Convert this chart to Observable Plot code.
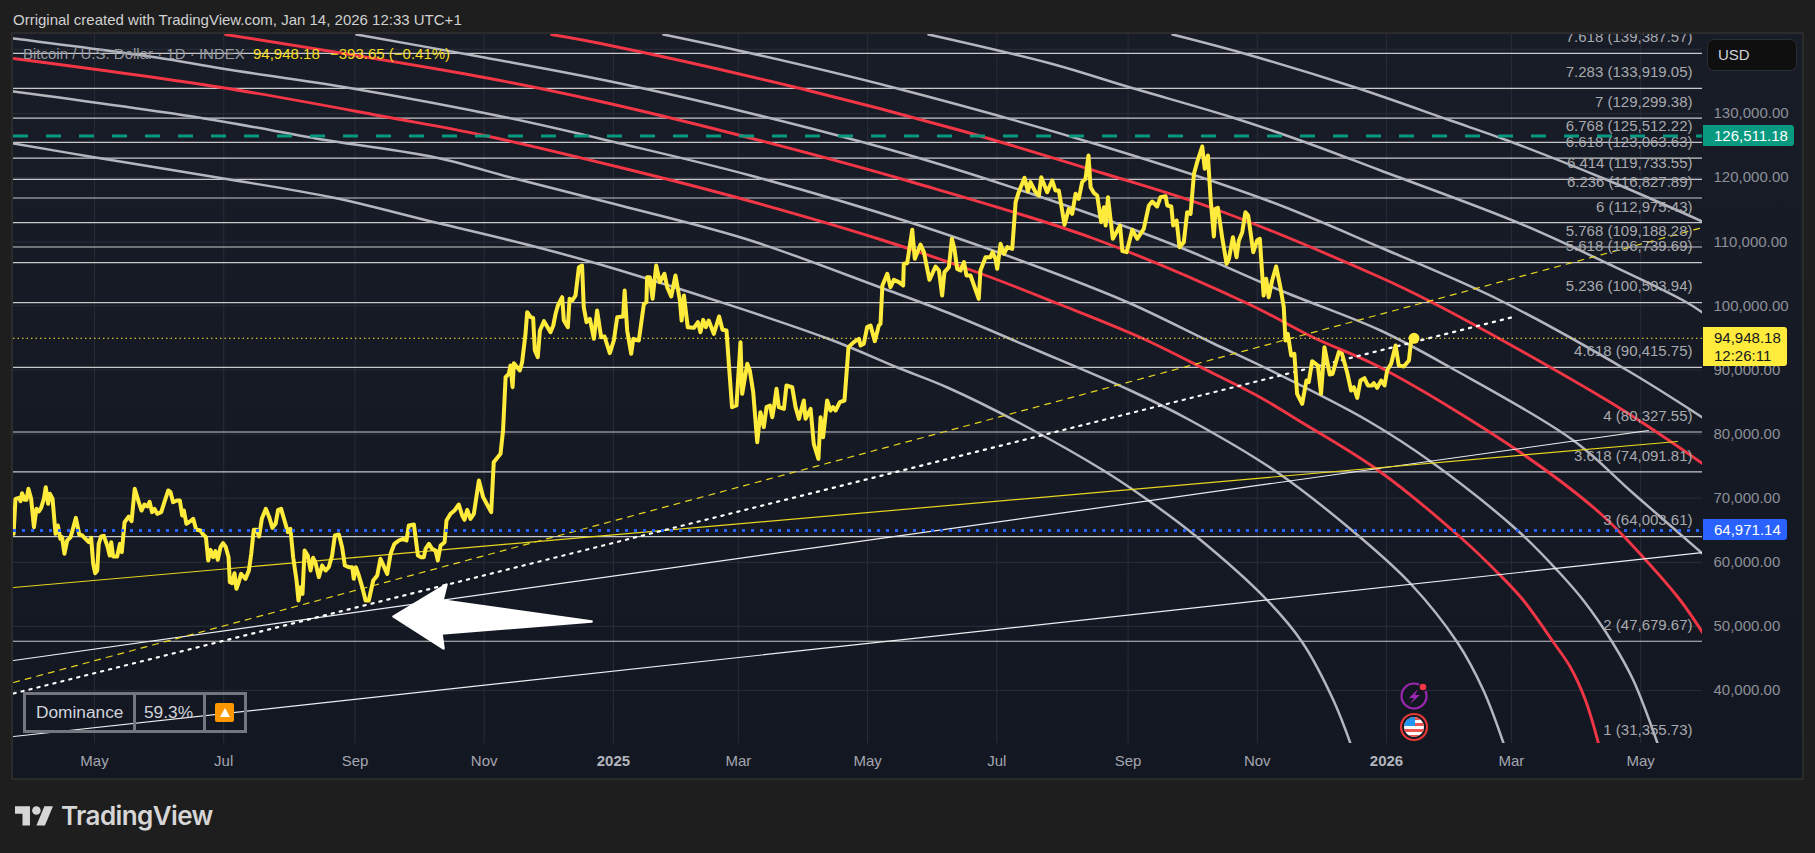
<!DOCTYPE html>
<html><head><meta charset="utf-8">
<script src="https://cdn.jsdelivr.net/npm/d3@7"></script>
<script src="https://cdn.jsdelivr.net/npm/@observablehq/plot@0.6"></script>
<style>
html,body{margin:0;padding:0;background:#1e1e1e;overflow:hidden}
body{width:1815px;height:853px;position:relative;font-family:"Liberation Sans",Arial,sans-serif}
#panel{position:absolute;left:11px;top:32px;width:1789px;height:744px;border:2px solid #2b2b2b;background:linear-gradient(#181c27,#131722)}
#chart{position:absolute;left:0;top:0}
.abs{position:absolute;white-space:nowrap}
.tag{position:absolute;left:1703px;font-size:15px;line-height:21px;text-align:left;padding-left:11px;box-sizing:border-box;border-radius:0 3px 3px 0}
#dom{position:absolute;left:23px;top:692px;width:224px;height:41px;box-sizing:border-box;border:3px solid #74767f}
#dom div{position:absolute;top:0;height:35px;line-height:35px;font-size:17.3px;color:#d1d4dc}
</style></head><body>
<div id="panel"></div>
<div id="chart"></div>
<script>
// ---- time axis
const startDay = Date.UTC(2024, 4, 1);
const at = d => new Date(startDay + d * 864e5);
const axisDate = ["2024-05-01","2024-07-01","2024-09-01","2024-11-01","2025-03-01","2025-05-01","2025-07-01","2025-09-01","2025-11-01","2026-03-01","2026-05-01"];
const axisYears = ["2025-01-01","2026-01-01"];
const priceTicks = [40000,50000,60000,70000,80000,90000,100000,110000,120000,130000,140000];

// ---- BTC close: days since 2024-05-01 and price
const closeDays = [-38.2,-37.3,-35.7,-34.9,-34.2,-33,-32.1,-31.2,-29.9,-28.6,-27.4,-26.3,-25.2,-23.9,-23,-21.9,-21.1,-19.8,-18.4,-17.3,-16.1,-15.3,-14.2,-12.9,-11.3,-10.4,-8.8,-7.2,-5.8,-4.2,-2.7,-1.6,-0.6,0.3,1.3,2,3.1,4.4,6,7.2,7.9,8.8,10.7,12,12.9,14.2,15.4,16.2,17.5,19,20.9,22.2,23.6,24.9,26,27.2,28.3,29.6,31.5,33,34.8,35.9,37.1,39,40.3,41.4,42.2,43.4,45.3,46.6,48,50,51.3,52.6,53.7,54.8,56,57.1,58.2,59.5,60.7,62,63.3,63.9,65,66.1,67,68.1,69.2,71.3,72.9,74,75.2,76.5,77.7,79,80.9,82.5,84,85.5,86.7,88.1,89.7,91.3,92.5,93.8,95.4,96.3,97.3,98.2,99.2,100.7,102,103.2,104.3,105.9,107.5,109.1,110.6,112.2,113.5,115.4,116.9,118.2,120.1,121.7,122.4,123.4,124.8,126.4,128,129.5,131.6,133.5,135,138.2,139.8,141.6,143.7,145.7,147.3,148.4,150.8,152.7,154.2,155.5,156.3,157.9,159.4,161,162.1,163.4,165.3,166.2,168.1,170,172,173.6,174.7,176,177.5,179.1,181.5,183.5,187.3,
188.5,191.7,192.9,194.1,195.6,196.4,197.4,198,200.8,201.9,203.5,204.3,205.9,207.1,207.9,209.3,210.3,212.2,213.7,215.3,216.6,217.7,218.8,220.8,221.6,223.5,224.3,225.6,227.1,228.7,230.2,231,232.3,233.9,235.8,237.3,239.2,240.8,243.3,245.2,246.8,249.6,250.3,251.5,253.4,254.4,257,259.4,260.6,260.9,262.2,263.5,265.2,266.9,269.1,270.4,272.3,274.3,276.4,277.2,278.3,280.1,283,284.9,286.1,287.4,288.6,290,292.4,294.9,296.5,298.4,299.5,301,303.1,305,305.8,308.2,309.4,311,312.9,314.4,316,317.3,318.9,320,320.8,322,323.1,325.5,326.7,329.4,331,332.6,334.9,335.7,338.1,339.6,341.8,342.8,344,345.9,347.5,348.7,349.9,351.9,354.1,356,358.5,360.9,361.7,363.2,364.8,366.4,368.4,370.3,371.1,372,374.3,375.8,377.4,379.8,381.8,382.1,383.7,
386.1,387.3,390,391.6,394.2,397.1,398.7,400.2,401.3,403.4,404.8,406,407.3,408.9,410.5,411.7,413.6,417.5,418.3,420.7,423,424,425.4,426.2,427.8,429.4,431,433.3,434.9,436.1,439.1,440.7,441.9,444.3,445.9,447,449.8,452.2,453.7,455.3,458,460,461.6,463.2,464.7,466.3,467.9,469.3,470.3,471.8,473.4,475.3,476.6,477.4,478.5,480.8,484.2,485.3,487.3,490,492.3,495.4,497.8,499.4,501.7,503.3,505.7,506.5,508.4,509.3,510.9,512.3,514.3,515.9,517.5,519.1,520.6,523,524.2,525.7,526.9,528.5,529.3,530.4,532.4,534.5,535.6,537.5,539.2,540.3,541.9,543.4,544.7,547.1,548.9,550.2,552,553.2,554.4,556,557.9,559.9,561.5,562.3,563.4,565,566.5,567.8,570.2,572.2,573.3,574.9,577.6,579.1,580.7,583.2,584.5,587.5,589,
591.4,593.3,594.6,596.2,597.7,599.6,601.2,603.2,604,605.6,607.5,609.1,610.3,612.2,614.3,615.8,618.2,620.6,621.7,623];
const closePrices = [64440,69900,70056,69536,70784,69744,69744,71460,69900,65480,68340,67924,68496,69900,71720,69120,70680,69900,64440,65740,63660,63920,61320,63400,63920,64960,66936,64336,64180,63660,63140,63816,59760,58304,58720,62880,64024,64128,62620,61060,63140,60904,60904,62880,61580,66260,66780,67144,66416,71460,69380,68080,69016,68704,69432,67820,68340,67560,67820,69380,71200,70940,69380,69640,69640,67300,68080,66000,66416,66780,65116,64960,64336,63920,60280,61944,60800,61736,60384,62360,62984,62360,60800,56900,56744,58304,55860,56900,58200,57420,58720,61320,65064,65064,64024,66780,68340,67040,65376,66000,68184,68340,66520,64700,65220,60800,57160,54040,56120,55080,61840,61060,58720,60696,60020,57680,59500,58720,59240,61060,64180,64336,62360,59500,59240,59240,57420,59240,57940,56120,54040,54040,57160,57940,60540,58200,61320,62880,63400,63660,63400,65740,65896,61060,60800,60800,62100,62880,62100,61840,60280,62620,63140,66520,67560,68080,69016,67300,66624,68184,66780,67560,72760,70160,67820,
75620,76920,80560,88880,89400,90700,87320,91064,89920,91220,95640,99020,98240,98136,93040,92000,96160,97616,96784,95900,96940,98760,100060,101360,97720,96680,101100,100840,101620,106040,106300,99800,97460,97980,94860,99280,95120,95224,92624,94600,98240,98344,102400,96160,92520,94860,94600,100320,100580,104480,104480,101100,106300,103700,105000,102920,101464,104740,100840,97720,101620,96680,96576,97460,95900,97824,96680,97720,95640,98344,96264,96160,90960,84200,84460,94340,86280,90960,89920,86540,78740,83420,81080,84200,84460,82640,84200,87060,84200,83940,87580,87320,84200,82380,85240,82380,83940,78480,76140,82640,79520,85240,83680,84200,83680,84980,85240,93560,94340,94860,93820,94080,96680,96940,94500,96940,97200,103180,105000,102920,104064,103700,103180,106560,106664,
111864,107340,109576,108380,104064,106144,105520,101620,105260,106040,110460,108900,105780,105520,106820,104740,104740,101100,105520,107600,107600,108380,107340,105780,109680,108120,109160,108900,116180,117480,119976,117896,119300,117740,117220,120080,117740,119560,118000,118000,112644,115140,114360,117480,116700,119300,119820,123460,118520,117636,117220,113060,115400,112540,116960,110460,112540,108536,108380,111864,110460,112020,115660,116284,115504,116960,117116,115660,115504,112540,113320,109160,109940,114620,114360,120600,122420,124864,121380,123460,116960,110824,115140,115296,110720,106560,107340,110720,107600,110200,111500,114620,114100,108380,110200,110460,101620,104220,101360,103960,106144,102920,99800,94600,95640,92260,92520,86280,84720,88360,88100,91376,90700,86280,93560,89296,89400,92780,92520,
89660,86800,87320,85656,88360,88724,87580,87580,87944,87216,88360,87580,89920,90960,93820,90700,90544,91480,94860,94948];

// ---- horizontal levels
const fibNames = ["7.618","7.283","7","6.768","6.618","6.414","6.236","6","5.768","5.618","5.236","4.618","4","3.618","3","2","1"];
const fibPrices = [139387.57,133919.05,129299.38,125512.22,123063.63,119733.55,116827.89,112975.43,109188.28,106739.69,100503.94,90415.75,80327.55,74091.81,64003.61,47679.67,31355.73];

// ---- arcs: days, prices
const g0Days=[509,541.1,595.4,640.2,667.1,712.5,759.2];
const g0Prices=[142336,139528,134068,128920,125800,119872,113164];
const g1Days=[393.8,451.4,489.1,537.3,569.4,607.2,671.9,714.4,750.2,759.2];
const g1Prices=[142336,137812,134068,129388,125800,121120,113008,106612,100840,98968];
const g2Days=[268.6,308.3,377.2,475,553.8,607.2,663.8,723.8,759.2];
const g2Prices=[142336,139528,134068,125020,116440,109108,100840,89920,82588];
const r3Days=[215.8,238.9,333.3,408.9,475,528.3,607.2,629.8,673.3,721.9,759.2];
const r3Prices=[142336,140932,133912,127360,120808,115192,104428,100840,93040,83680,75412];
const gaDays=[123.7,184.1,248.3,317.8,390,465.5,512.7,560,607.2,640.2,698.3,726.6,759.2];
const gaPrices=[142336,138748,134692,129388,122992,114880,109108,102400,96160,90388,79000,70732,61372];
const rbDays=[61.9,184.1,238.9,305,386.7,471.7,544.4,575.5,607.2,671.9,711,731.3,748.8,759.2];
const rbPrices=[142336,135628,131884,126580,119248,110512,100372,95068,90388,77440,67612,60748,54040,49048];
const gcDays=[-38.2,29.3,60,121.8,194.5,248.3,309.7,386.7,450,489.1,528.3,550.5,601,632.2,671.9,690.7,703,716.7,726.6,738];
const gcPrices=[141712,138748,137032,133912,129388,125332,120340,112852,105520,100372,94132,90700,82120,75412,64960,58720,54040,47488,41560,31732];
const rdDays=[-38.2,60,139.3,184.1,248.3,305,371.1,418.3,454.7,493.9,528.3,550.5,568.5,606.2,645,663.8,674.7,688.9,696.9,704,710.1];
const rdPrices=[138592,134068,129388,126580,121588,116752,110356,105052,100372,95068,89452,85708,82120,74320,63868,57940,54040,47488,43588,38440,31732];
const geDays=[-38.2,49.1,110.5,161,198.3,248.3,308.3,371.1,402.7,441.9,489.1,517.5,558.5,597.7,621.3,643.5,655.8,665.3];
const gePrices=[133444,129388,125800,123148,119872,115660,110356,102868,98968,93508,86800,82120,74008,63868,56692,47488,40000,31732];
const gfDays=[-38.2,0.5,60.9,112.4,161,207.7,248.3,346.1,379.1,402.7,437.2,476.4,497.6,520.8,552.9,570.3,585,593];
const gfPrices=[125332,123148,119872,116908,113008,109264,105520,94912,90388,87268,81652,74320,69640,63868,54352,47488,38440,31732];

// ---- trend lines
const whiteADays=[-38.2,733.7], whiteAPrices=[44680,80560];
const whiteBDays=[-38.2,759.2], whiteBPrices=[32824,61528];
const yellowDays=[-38.2,747.4], yellowPrices=[56068,78844];
const yelDashDays=[-38.2,759.2], yelDashPrices=[41248,112228];
const whiteDotDays=[-38.2,669], whiteDotPrices=[39532,98188];
const arrowDays=[141.2,166.2,164.3,234.7,163.8,164.8,141.2];
const arrowPrices=[51544,56536,54040,50764,48892,46552,51544];

const lastPrice=94948.18, athPrice=126511.18, bluePrice=64971.14;
const rows=(ds,ps)=>ds.map((d,i)=>({t:at(d),p:ps[i]}));
const gray="#b4b6bf", red="#f23645";
const arc=(ds,ps,c,w)=>Plot.line(rows(ds,ps),{x:"t",y:"p",stroke:c,strokeWidth:w,curve:"catmull-rom",clip:true});
const seg=(ds,ps,o)=>Plot.line(rows(ds,ps),{x:"t",y:"p",clip:true,...o});
const domainX=[at(-38.24),at(759.2)];
const fibRows=fibNames.map((n,i)=>({n,p:fibPrices[i]}));
const gridC="#262a35";

const chart=Plot.plot({
  width:1815,height:853,marginTop:34,marginBottom:110,marginLeft:13,marginRight:113,
  style:{background:"transparent",fontFamily:'"Liberation Sans",Arial,sans-serif'},
  x:{type:"utc",domain:domainX,label:null},
  y:{type:"linear",domain:[31732,142336],label:null},
  marks:[
    Plot.ruleX([...axisDate,...axisYears].map(s=>new Date(s)),{stroke:gridC,strokeWidth:1.2}),
    Plot.ruleY(priceTicks,{stroke:gridC,strokeWidth:1.2,clip:true}),
    Plot.ruleY(fibPrices,{stroke:"#c9c9cc",strokeWidth:1.2,clip:true}),
    arc(g0Days,g0Prices,gray,2.5),arc(g1Days,g1Prices,gray,2.5),arc(g2Days,g2Prices,gray,2.5),
    arc(r3Days,r3Prices,red,2.9),arc(gaDays,gaPrices,gray,2.5),arc(rbDays,rbPrices,red,2.9),
    arc(gcDays,gcPrices,gray,2.5),arc(rdDays,rdPrices,red,2.9),arc(geDays,gePrices,gray,2.5),arc(gfDays,gfPrices,gray,2.5),
    seg(whiteADays,whiteAPrices,{stroke:"#eceef1",strokeWidth:1.2}),
    seg(whiteBDays,whiteBPrices,{stroke:"#eceef1",strokeWidth:1.2}),
    seg(yellowDays,yellowPrices,{stroke:"#e8d51f",strokeWidth:1.2}),
    seg(yelDashDays,yelDashPrices,{stroke:"#e8d51f",strokeWidth:1.2,strokeDasharray:"6,6"}),
    seg(whiteDotDays,whiteDotPrices,{stroke:"#ffffff",strokeWidth:2.2,strokeDasharray:"2.2,6"}),
    Plot.ruleY([lastPrice],{stroke:"#ffeb3b",strokeWidth:1,strokeDasharray:"1.5,3"}),
    Plot.axisY({anchor:"right",ticks:priceTicks,tickSize:0,tickPadding:11,tickFormat:d3.format(",.2f"),fontSize:15,fill:"#8e9099",label:null}),
    Plot.axisX({anchor:"bottom",ticks:axisDate.map(s=>new Date(s)),tickSize:0,tickPadding:12,tickFormat:d3.utcFormat("%b"),fontSize:15,fill:"#a3a6af",label:null}),
    Plot.axisX({anchor:"bottom",ticks:axisYears.map(s=>new Date(s)),tickSize:0,tickPadding:12,tickFormat:d3.utcFormat("%Y"),fontSize:15,fontWeight:"bold",fill:"#b2b5be",label:null}),
    Plot.text(fibRows,{x:()=>at(754.5),y:"p",text:d=>`${d.n} (${d3.format(",.2f")(d.p)})`,textAnchor:"end",dy:-16,fontSize:15,fill:"#a8a9ae",clip:true}),
    seg(closeDays,closePrices,{stroke:"#ffeb3b",strokeWidth:4,strokeLinejoin:"round",strokeLinecap:"round"}),
    Plot.dot(rows([623],[lastPrice]),{x:"t",y:"p",r:5.5,fill:"#ffeb3b"}),
    Plot.ruleY([athPrice],{stroke:"#089981",strokeWidth:3,strokeDasharray:"15,18"}),
    Plot.ruleY([bluePrice],{stroke:"#2962ff",strokeWidth:3,strokeDasharray:"3,6"}),
    Plot.line(rows(arrowDays,arrowPrices),{x:"t",y:"p",stroke:"#fff",fill:"#fff",strokeWidth:2.5,strokeLinejoin:"round"})
  ]
});
document.getElementById("chart").append(chart);

const yS=chart.scale("y");
const fmt=d3.format(",.2f");
const add=(html)=>{const t=document.createElement("div");t.innerHTML=html;document.body.append(...t.childNodes)};
add(`<div class="abs" style="left:13px;top:11px;font-size:15px;line-height:18px;color:#d1d1d1">Orriginal created with TradingView.com, Jan 14, 2026 12:33 UTC+1</div>
<div class="abs" style="left:23px;top:45px;font-size:15px;line-height:18px;color:#9a9ca3">Bitcoin / U.S. Dollar · 1D · INDEX</div>
<div class="abs" style="left:253px;top:45px;font-size:15px;line-height:18px;color:#f5de1f">${fmt(lastPrice)}</div>
<div class="abs" style="left:330px;top:45px;font-size:15px;line-height:18px;color:#f5de1f">−393.65 (−0.41%)</div>
<div class="abs" style="left:1707px;top:39px;width:90px;height:32px;box-sizing:border-box;border:1px solid #2a2e39;border-radius:7px;background:#0f0f0f;color:#d1d4dc;font-size:15px;line-height:30px;padding-left:10px">USD</div>
<div class="tag" style="top:${yS.apply(athPrice)-10.5}px;width:91px;height:21px;background:#089981;color:#fff">${fmt(athPrice)}</div>
<div class="tag" style="top:${yS.apply(lastPrice)-10.5}px;width:84px;height:39px;background:#ffeb3b;color:#131722;line-height:18px;padding-top:2px">${fmt(lastPrice)}<br>12:26:11</div>
<div class="tag" style="top:${yS.apply(bluePrice)-10.5}px;width:84px;height:21px;background:#2962ff;color:#fff">${fmt(bluePrice)}</div>
<div id="dom"><div style="left:10px">Dominance</div><div style="left:118px">59.3%</div>
<span class="abs" style="left:107px;top:0;width:3px;height:35px;background:#74767f"></span><span class="abs" style="left:177px;top:0;width:3px;height:35px;background:#74767f"></span>
<span class="abs" style="left:189px;top:8px;width:19px;height:19px;border-radius:2px;background:#ff9800"></span>
<span class="abs" style="left:193.5px;top:13px;width:0;height:0;border-left:5px solid transparent;border-right:5px solid transparent;border-bottom:9px solid #fff"></span></div>
<svg class="abs" style="left:1395px;top:675px" width="40" height="70" viewBox="0 0 40 70">
 <circle cx="19" cy="21" r="12.5" fill="#131722" stroke="#9c27b0" stroke-width="2.2"/>
 <path d="M23 14 L14 23 H19 L15 29 L25 20 H20 Z" fill="#9c27b0"/>
 <circle cx="28" cy="12" r="4.5" fill="#131722"/><circle cx="28" cy="12" r="3.3" fill="#f23645"/>
 <clipPath id="fl"><circle cx="19" cy="52" r="10"/></clipPath>
 <circle cx="19" cy="52" r="13" fill="#131722" stroke="#e53935" stroke-width="2.2"/>
 <g clip-path="url(#fl)"><rect x="9" y="42" width="20" height="20" fill="#fff"/>
 <rect x="9" y="42" width="20" height="3" fill="#ef5350"/><rect x="9" y="48" width="20" height="3" fill="#ef5350"/><rect x="9" y="54" width="20" height="3" fill="#ef5350"/><rect x="9" y="60" width="20" height="3" fill="#ef5350"/>
 <rect x="9" y="42" width="11" height="9" fill="#2196f3"/></g></svg>
<svg class="abs" style="left:15px;top:802px" width="38.5" height="30" viewBox="0 0 36 28" fill="#d6d6d6"><path d="M14 22H7V11H0V4h14v18zM28 22h-8l7.5-18h8L28 22z"/><circle cx="20" cy="8" r="4"/></svg>
<div class="abs" style="left:61px;top:799px;font-family:Inter,'Liberation Sans';font-weight:600;font-size:26px;line-height:34px;letter-spacing:-0.6px;color:#d6d6d6">TradingView</div>`);
</script>
</body></html>
